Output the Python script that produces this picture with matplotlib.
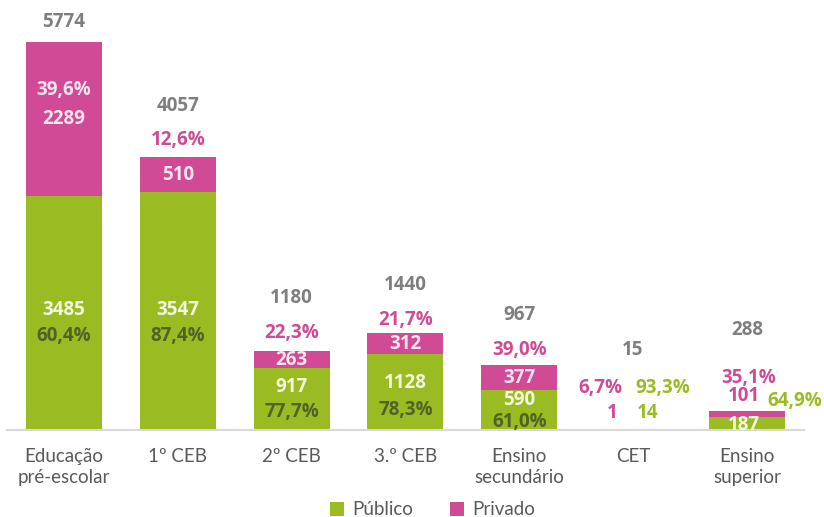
import numpy as np
import matplotlib.pyplot as plt

plt.rcParams['font.family'] = ['Lato', 'DejaVu Sans']

# data
categories = ['Educação\npré-escolar', '1º CEB', '2º CEB', '3.º CEB',
              'Ensino\nsecundário', 'CET', 'Ensino\nsuperior']
publico = [3485, 3547, 917, 1128, 590, 14, 187]
privado = [2289, 510, 263, 312, 377, 1, 101]
totais = [5774, 4057, 1180, 1440, 967, 15, 288]
pct_publico = ['60,4%', '87,4%', '77,7%', '78,3%', '61,0%', '93,3%', '64,9%']
pct_privado = ['39,6%', '12,6%', '22,3%', '21,7%', '39,0%', '6,7%', '35,1%']

GREEN = '#9BBB22'
PINK = '#D04A95'
DKGREEN = '#4F6228'
GREY = '#7F7F7F'
LIGHT_P = '#F7E4EF'
LIGHT_G = '#F3F7E2'

fig = plt.figure(figsize=(8.24, 5.17), dpi=100)
ax = fig.add_axes([0.0085, 0.1683, 0.967, 0.8317])

x = np.arange(len(categories))
w = 0.668
ax.bar(x, publico, w, color=GREEN, label='Público', zorder=2)
ax.bar(x, privado, w, bottom=publico, color=PINK, label='Privado', zorder=2)

ax.set_xlim(-0.5, 6.5)
ax.set_ylim(0, 6400)
for s in ['top', 'right', 'left']:
    ax.spines[s].set_visible(False)
ax.spines['bottom'].set_color('#D9D9D9')
ax.spines['bottom'].set_linewidth(1.5)
ax.set_yticks([])
ax.set_xticks(x)
ax.set_xticklabels(categories, fontsize=13.5, color='#595959', linespacing=1.3)
ax.tick_params(axis='x', length=0, pad=13)

bold = dict(fontsize=13.5, fontweight='bold', va='center', family='Open Sans')


def put(xi, yv, dy, txt, color, dx=0, ha='center'):
    ax.annotate(txt, (xi, yv), xytext=(dx, dy), textcoords='offset pixels',
                color=color, zorder=5, ha=ha, **bold)


# per-bar offsets in pixels (layout only)
tot_dy = [20, 51, 53, 48, 50, 79, 81]
pp_dy = [0, 17, 18, 13, 15, 0, 0]
gv_dy = [3, 1, 12, 9, 10, 0, 0]
gp_dy = [-26, -26, -25, -27, -22, 0, 0]

for i in range(len(categories)):
    top = totais[i]
    put(x[i], top, tot_dy[i], str(totais[i]), GREY)
    if i <= 4:
        pmid = publico[i] + privado[i] / 2
        gmid = publico[i] / 2
        if i == 0:
            put(x[i], pmid, 29, pct_privado[i], LIGHT_P)
        else:
            put(x[i], top, pp_dy[i], pct_privado[i], PINK)
        put(x[i], pmid, 0, str(privado[i]), LIGHT_P)
        put(x[i], gmid, gv_dy[i], str(publico[i]), LIGHT_G)
        put(x[i], gmid, gv_dy[i] + gp_dy[i], pct_publico[i], DKGREEN)

# CET
put(x[5], 0, 42, pct_privado[5], PINK, dx=-33)
put(x[5], 0, 42, pct_publico[5], GREEN, dx=30)
put(x[5], 0, 17, str(privado[5]), PINK, dx=-21)
put(x[5], 0, 17, str(publico[5]), GREEN, dx=15)

# Ensino superior
put(x[6], 0, 52, pct_privado[6], PINK, dx=2)
put(x[6], 0, 34, str(privado[6]), PINK, dx=-3)
put(x[6], 0, 29, pct_publico[6], GREEN, dx=48)
put(x[6], 0, 5, str(publico[6]), LIGHT_G, dx=-3)

fig.legend(loc='lower center', bbox_to_anchor=(0.525, -0.035), ncol=2,
           frameon=False, fontsize=13.5, handlelength=0.75, handleheight=0.75,
           handletextpad=0.4, columnspacing=2.0, labelcolor='#595959')

fig.savefig('out.png', dpi=100)
